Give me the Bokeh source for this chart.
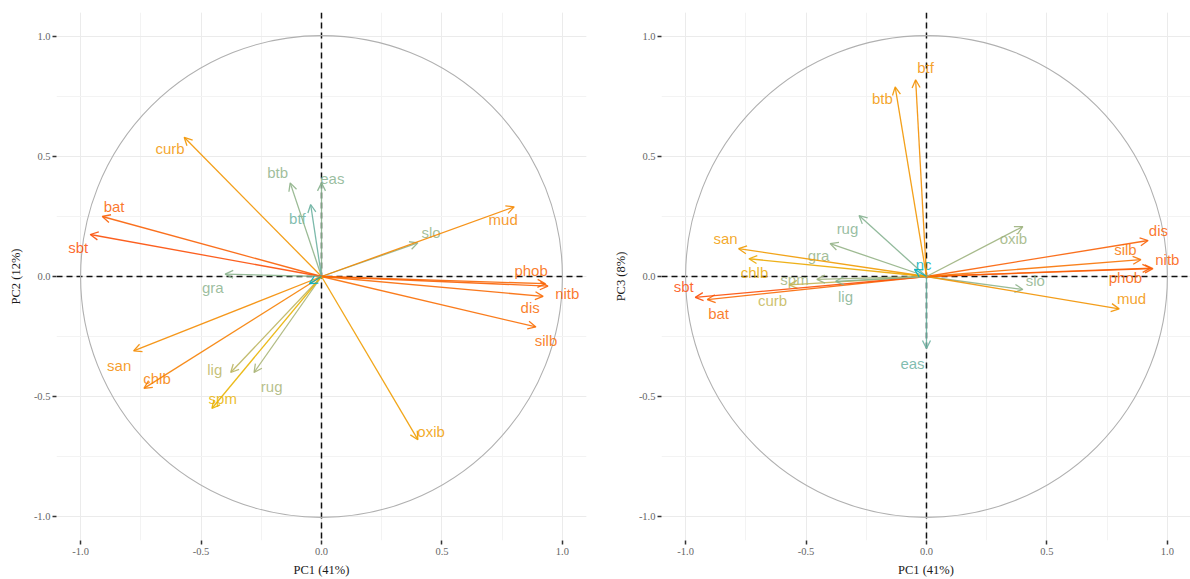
import numpy as np
from bokeh.plotting import figure
from bokeh.layouts import row
from bokeh.models import ColumnDataSource, Arrow, OpenHead, Span, FixedTicker, PrintfTickFormatter
from bokeh.core.properties import value, field
from bokeh.embed import file_html
from bokeh.resources import INLINE

# ---------------- data (variable loadings) ----------------
variables = ["curb", "btb", "eas", "btf", "bat", "sbt", "gra", "slo", "mud", "phob",
             "nitb", "dis", "silb", "oxib", "rug", "lig", "spm", "chlb", "san", "nc"]
pc1 = [-0.57, -0.13, 0.00, -0.045, -0.91, -0.96, -0.40, 0.40, 0.80, 0.93,
       0.94, 0.92, 0.89, 0.40, -0.28, -0.377, -0.455, -0.737, -0.78, -0.05]
pc2 = [0.58, 0.39, 0.39, 0.30, 0.25, 0.175, 0.01, 0.14, 0.29, -0.03,
       -0.04, -0.083, -0.21, -0.68, -0.40, -0.40, -0.55, -0.466, -0.31, -0.03]
pc3 = [-0.035, 0.79, -0.30, 0.82, -0.096, -0.087, 0.137, -0.054, -0.135, 0.035,
       0.033, 0.15, 0.07, 0.208, 0.254, -0.02, -0.012, 0.074, 0.116, 0.03]

# label anchor positions (data units)
lab12_x = [-0.629, -0.182, 0.045, -0.10, -0.861, -1.01, -0.451, 0.455, 0.754, 0.87,
           1.02, 0.866, 0.932, 0.455, -0.207, -0.443, -0.41, -0.683, -0.84, np.nan]
lab12_y = [0.532, 0.432, 0.41, 0.24, 0.291, 0.12, -0.046, 0.183, 0.237, 0.025,
           -0.07, -0.129, -0.266, -0.644, -0.46, -0.387, -0.51, -0.424, -0.37, np.nan]
lab13_x = [-0.639, -0.183, -0.058, -0.004, -0.863, -1.008, -0.448, 0.452, 0.851, 0.826,
           1.0, 0.963, 0.826, 0.361, -0.328, -0.336, -0.548, -0.714, -0.834, -0.012]
lab13_y = [-0.10, 0.74, -0.362, 0.869, -0.154, -0.042, 0.087, -0.017, -0.091, -0.004,
           0.07, 0.191, 0.112, 0.158, 0.20, -0.083, -0.012, 0.017, 0.158, 0.05]

x_title = "PC1 (41%)"
y_titles = ["PC2 (12%)", "PC3 (8%)"]
ticks = [-1.0, -0.5, 0.0, 0.5, 1.0]
minor = [-1.0, -0.75, -0.5, -0.25, 0.0, 0.25, 0.5, 0.75, 1.0]
gradient = ["#00AFBB", "#E7B800", "#FC4E07"]

# ---------------- colour gradient (Lab interpolation like ggplot) ----------------
def _to_lab(h):
    rgb = [int(h[i:i + 2], 16) / 255 for i in (1, 3, 5)]
    lin = [c / 12.92 if c <= 0.04045 else ((c + 0.055) / 1.055) ** 2.4 for c in rgb]
    r, g, b = lin
    X = (0.4124564 * r + 0.3575761 * g + 0.1804375 * b) / 0.95047
    Y = (0.2126729 * r + 0.7151522 * g + 0.0721750 * b)
    Z = (0.0193339 * r + 0.1191920 * g + 0.9503041 * b) / 1.08883
    f = lambda t: t ** (1 / 3) if t > 0.008856 else 7.787 * t + 16 / 116
    fx, fy, fz = f(X), f(Y), f(Z)
    return (116 * fy - 16, 500 * (fx - fy), 200 * (fy - fz))

def _from_lab(L, a, b):
    fy = (L + 16) / 116
    fx = fy + a / 500
    fz = fy - b / 200
    fi = lambda t: t ** 3 if t ** 3 > 0.008856 else (t - 16 / 116) / 7.787
    X, Y, Z = fi(fx) * 0.95047, fi(fy), fi(fz) * 1.08883
    r = 3.2404542 * X - 1.5371385 * Y - 0.4985314 * Z
    g = -0.9692660 * X + 1.8760108 * Y + 0.0415560 * Z
    bb = 0.0556434 * X - 0.2040259 * Y + 1.0572252 * Z
    out = []
    for c in (r, g, bb):
        c = 12.92 * c if c <= 0.0031308 else 1.055 * c ** (1 / 2.4) - 0.055
        out.append(int(round(min(max(c, 0), 1) * 255)))
    return "#%02x%02x%02x" % tuple(out)

_labs = [_to_lab(c) for c in gradient]

def grad_color(t):
    t = min(max(t, 0.0), 1.0)
    seg = min(int(t * 2), 1)
    u = t * 2 - seg
    a, b = _labs[seg], _labs[seg + 1]
    return _from_lab(*[a[i] + (b[i] - a[i]) * u for i in range(3)])

def colors_for(xs, ys):
    c = np.array(xs) ** 2 + np.array(ys) ** 2
    t = (c - c.min()) / (c.max() - c.min())
    return [grad_color(v) for v in t]

# ---------------- build panels ----------------
def panel(ys, lx, ly, ytitle, border_left, frame_w, x_end, border_right):
    p = figure(frame_width=frame_w, frame_height=528,
               min_border_left=border_left, min_border_right=border_right,
               min_border_top=12, min_border_bottom=39,
               x_range=(-1.1, x_end), y_range=(-1.1, 1.1),
               output_backend="svg", toolbar_location=None,
               background_fill_color="white", border_fill_color="white")
    p.outline_line_color = None
    for ax in (p.xaxis[0], p.yaxis[0]):
        ax.ticker = FixedTicker(ticks=ticks, minor_ticks=minor)
        ax.formatter = PrintfTickFormatter(format="%.1f")
        ax.axis_line_color = None
        ax.major_tick_line_color = "#333333"
        ax.major_tick_line_width = 1.5
        ax.major_tick_in = 0
        ax.major_tick_out = 4
        ax.minor_tick_line_color = None
        ax.major_label_text_font = "Liberation Serif"
        ax.major_label_text_font_size = "10.5px"
        ax.major_label_text_color = "#666666"
        ax.axis_label_text_font = "Liberation Serif"
        ax.axis_label_text_font_size = "12.5px"
        ax.axis_label_text_font_style = "normal"
        ax.axis_label_text_color = "#1a1a1a"
    p.xaxis[0].axis_label = x_title
    p.yaxis[0].axis_label = ytitle
    p.xaxis[0].major_label_standoff = 3
    p.xaxis[0].axis_label_standoff = 5
    p.yaxis[0].major_label_standoff = 2
    p.yaxis[0].axis_label_standoff = 8
    p.xgrid.grid_line_color = "#EBEBEB"
    p.ygrid.grid_line_color = "#EBEBEB"
    p.xgrid.minor_grid_line_color = "#F3F3F3"
    p.ygrid.minor_grid_line_color = "#F3F3F3"

    # correlation circle
    p.circle(x=[0], y=[0], radius=1, fill_color=None, line_color="#B0B0B0", line_width=1.1)

    for dim in ("width", "height"):
        p.add_layout(Span(location=0, dimension=dim, line_color="#111111",
                          line_dash="6 4", line_width=1.5, level="underlay"))

    cols = colors_for(pc1, ys)
    src = ColumnDataSource(dict(x0=[0.0] * len(variables), y0=[0.0] * len(variables),
                                x1=pc1, y1=ys, lx=lx, ly=ly,
                                name=variables, color=cols))
    p.add_layout(Arrow(x_start="x0", y_start="y0", x_end="x1", y_end="y1", source=src,
                       line_color=field("color"), line_width=1.3, line_alpha=0.9,
                       end=OpenHead(size=8, line_color=field("color"), line_width=1.3,
                                    line_alpha=0.9)))
    p.text(x="lx", y="ly", text="name", source=src, text_color="color",
           text_font=value("Liberation Sans"), text_font_size="15px",
           text_align="center", text_baseline="middle", text_alpha=0.85)
    return p

left = panel(pc2, lab12_x, lab12_y, y_titles[0], 56, 530, 1.1, 8)
right = panel(pc3, lab13_x, lab13_y, y_titles[1], 67, 529, 1.096, 0)

layout = row(left, right)
open("out.html", "w").write(file_html(layout, INLINE))
